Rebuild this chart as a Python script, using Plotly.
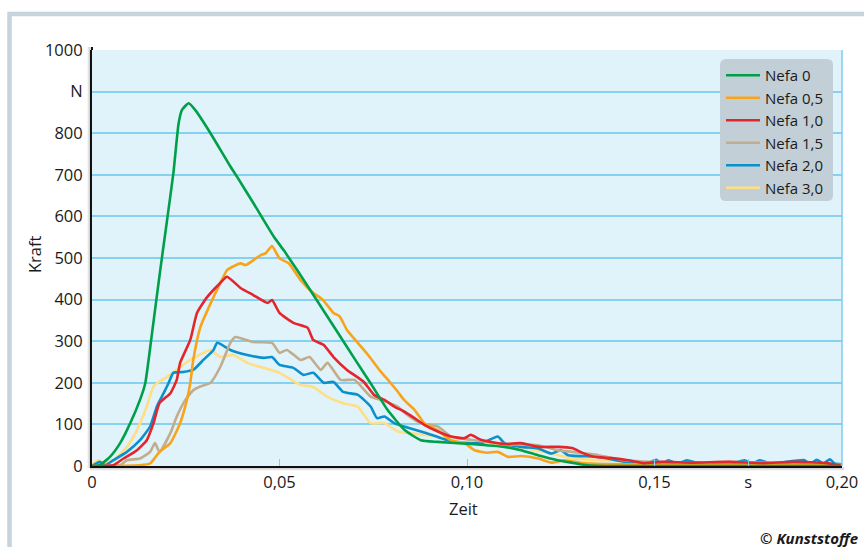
import plotly.graph_objects as go

# ---------------- data ----------------
x_nefa0 = [0, 0.002, 0.0048, 0.0075, 0.0102, 0.0128, 0.0142, 0.016, 0.0182, 0.0200, 0.0217, 0.0231, 0.0240,
           0.0258, 0.0275, 0.0316, 0.0369, 0.0387, 0.0431, 0.0485, 0.0511, 0.0529, 0.0547, 0.060, 0.065, 0.070,
           0.0743, 0.0788, 0.0833, 0.0877, 0.0922, 0.101, 0.110, 0.1144, 0.1189, 0.1242, 0.128, 0.132, 0.140, 0.200]
y_nefa0 = [0, 2, 22, 55, 103, 159, 199, 319, 471, 590, 704, 824, 856,
           872, 856, 800, 720, 695, 631, 551, 519, 495, 471, 398, 328, 258,
           199, 135, 87, 62, 58, 53, 46, 38, 26, 14, 8, 2, 0, 0]

x_nefa05 = [0, 0.0128, 0.0155, 0.018, 0.0209, 0.0235, 0.0253, 0.0262, 0.027, 0.0289, 0.0324, 0.035, 0.036,
            0.0396, 0.041, 0.045, 0.0463, 0.048, 0.050, 0.0525, 0.0556, 0.059, 0.0615, 0.0644, 0.066, 0.068,
            0.0705, 0.0725, 0.0743, 0.077, 0.0797, 0.0815, 0.0832, 0.086, 0.0886, 0.092, 0.0957, 0.0993, 0.102,
            0.1055, 0.1082, 0.111, 0.1144, 0.119, 0.1225, 0.126, 0.131, 0.140, 0.200]
y_nefa05 = [0, 2, 6, 34, 55, 103, 159, 199, 255, 334, 406, 454, 471,
            487, 483, 507, 511, 529, 499, 487, 447, 416, 400, 368, 360, 327,
            300, 279, 259, 227, 199, 179, 159, 135, 103, 87, 62, 55, 38,
            32, 34, 22, 24, 18, 8, 14, 7, 4, 3]

x_nefa10 = [0, 0.0057, 0.0084, 0.012, 0.0146, 0.0164, 0.018, 0.0209, 0.0226, 0.0235, 0.0262, 0.028, 0.0307,
            0.0342, 0.036, 0.0396, 0.043, 0.0468, 0.048, 0.050, 0.0537, 0.0575, 0.059, 0.0618, 0.0644, 0.068,
            0.0725, 0.0752, 0.078, 0.0806, 0.0832, 0.086, 0.0886, 0.0922, 0.0957, 0.0993, 0.101, 0.1037, 0.110,
            0.1144, 0.119, 0.1242, 0.128, 0.131, 0.134, 0.1385, 0.143, 0.147, 0.152, 0.160, 0.170, 0.179,
            0.187, 0.196, 0.200]
y_nefa10 = [0, 2, 18, 38, 62, 103, 151, 175, 207, 248, 303, 368, 406,
            440, 455, 428, 411, 392, 399, 368, 344, 332, 303, 291, 262, 231,
            202, 171, 159, 143, 131, 115, 99, 83, 71, 67, 75, 63, 53,
            55, 46, 46, 43, 31, 22, 19, 14, 7, 10, 8, 10, 7,
            10, 7, 0]

x_nefa15 = [0, 0.0075, 0.0093, 0.0128, 0.0155, 0.0168, 0.018, 0.0209, 0.0226, 0.0249, 0.0271, 0.0289, 0.0316,
            0.0342, 0.0369, 0.0382, 0.043, 0.048, 0.050, 0.052, 0.0556, 0.058, 0.061, 0.0628, 0.0663, 0.070,
            0.0743, 0.077, 0.0815, 0.0841, 0.0877, 0.0922, 0.0957, 0.101, 0.110, 0.119, 0.124, 0.128, 0.135,
            0.142, 0.150, 0.160, 0.170, 0.180, 0.190, 0.196, 0.200]
y_nefa15 = [0, 2, 14, 18, 34, 55, 34, 79, 119, 159, 183, 191, 200,
            238, 296, 310, 298, 296, 272, 279, 255, 262, 231, 248, 207, 207,
            167, 159, 143, 123, 103, 95, 71, 63, 53, 50, 38, 34, 26,
            14, 10, 8, 10, 8, 6, 3, 0]

x_nefa20 = [0, 0.0021, 0.0035, 0.0057, 0.0093, 0.0128, 0.0155, 0.0173, 0.0191, 0.0204, 0.0217, 0.0243, 0.027,
            0.0297, 0.0324, 0.0334, 0.0369, 0.0414, 0.0457, 0.048, 0.050, 0.0537, 0.0564, 0.059, 0.0618, 0.0644,
            0.067, 0.0709, 0.0743, 0.076, 0.078, 0.0806, 0.0832, 0.0877, 0.0904, 0.093, 0.0966, 0.100, 0.104,
            0.1082, 0.110, 0.1144, 0.119, 0.1225, 0.125, 0.127, 0.135, 0.142, 0.148, 0.1505, 0.152, 0.1537,
            0.156, 0.1586, 0.162, 0.170, 0.174, 0.176, 0.178, 0.181, 0.190, 0.1915, 0.1933, 0.195, 0.1968,
            0.198, 0.200]
y_nefa20 = [0, 10, 2, 14, 34, 62, 95, 143, 175, 199, 224, 226, 231,
            255, 279, 296, 279, 267, 260, 262, 243, 236, 219, 224, 200, 202,
            178, 171, 143, 115, 119, 103, 95, 83, 75, 67, 58, 55, 55,
            71, 55, 46, 42, 30, 38, 26, 22, 10, 6, 15, 5, 14,
            5, 14, 6, 5, 14, 5, 14, 6, 14, 5, 15, 6, 16,
            6, 4]

x_nefa30 = [0, 0.0004, 0.0017, 0.003, 0.0057, 0.0093, 0.012, 0.0146, 0.0164, 0.018, 0.020, 0.0235, 0.0262,
            0.0297, 0.0316, 0.0342, 0.0377, 0.0414, 0.0457, 0.050, 0.0556, 0.059, 0.0628, 0.067, 0.0709, 0.0743,
            0.078, 0.0815, 0.085, 0.0886, 0.092, 0.0975, 0.101, 0.106, 0.1136, 0.1206, 0.128, 0.135, 0.150,
            0.170, 0.190, 0.200]
y_nefa30 = [0, 6, 14, 6, 14, 46, 87, 143, 191, 203, 214, 238, 255,
            272, 279, 262, 267, 248, 236, 224, 195, 190, 166, 151, 142, 103,
            103, 83, 79, 75, 71, 55, 58, 55, 46, 34, 19, 14, 8,
            7, 7, 3]

series_names = ["Nefa 0", "Nefa 0,5", "Nefa 1,0", "Nefa 1,5", "Nefa 2,0", "Nefa 3,0"]
series_x = [x_nefa0, x_nefa05, x_nefa10, x_nefa15, x_nefa20, x_nefa30]
series_y = [y_nefa0, y_nefa05, y_nefa10, y_nefa15, y_nefa20, y_nefa30]
series_colors = ["#00a04b", "#f9a31b", "#e4252b", "#c0ad8e", "#0a90cc", "#fedf86"]

y_tickvals = [0, 100, 200, 300, 400, 500, 600, 700, 800, 900, 1000]
y_ticktext = ["0", "100", "200", "300", "400", "500", "600", "700", "800", "N", "1000"]
x_tickvals = [0, 0.05, 0.10, 0.15, 0.175, 0.20]
x_ticktext = ["0", "0,05", "0,10", "0,15", "s", "0,20"]

# ---------------- figure ----------------
W, H = 864, 547
ML, MR, MT, MB = 92, 22, 50, 81
PW, PH = W - ML - MR, H - MT - MB

def px_x(p):
    return (p - ML) / PW

def px_y(p):
    return (H - MB - p) / PH

FONT = "Open Sans"
fig = go.Figure()

# draw order: lower curves first, green on top
draw_order = [5, 4, 3, 1, 2, 0]
for i in draw_order:
    fig.add_trace(go.Scatter(
        x=series_x[i], y=series_y[i], name=series_names[i], mode="lines",
        line=dict(color=series_colors[i], width=2.6, shape="spline", smoothing=0.5),
        legendrank=i + 1,
    ))

fig.update_layout(
    width=W, height=H,
    margin=dict(l=ML, r=MR, t=MT, b=MB, pad=0, autoexpand=False),
    paper_bgcolor="white",
    plot_bgcolor="#e0f2fa",
    font=dict(family=FONT, size=16.5, color="#1a1a1a"),
    showlegend=True,
    legend=dict(
        x=px_x(721), y=px_y(59), xanchor="left", yanchor="top",
        bgcolor="rgba(0,0,0,0)", borderwidth=0,
        font=dict(family=FONT, size=15, color="#1a1a1a"),
        itemwidth=34, tracegroupgap=0,
    ),
)

fig.update_xaxes(
    range=[0, 0.2], tickvals=x_tickvals, ticktext=x_ticktext,
    showgrid=False, zeroline=False, automargin=False,
    showline=True, linecolor="#111111", linewidth=2,
    ticks="inside", ticklen=7, tickcolor="#7fcdef", tickwidth=1,
    tickfont=dict(family=FONT, size=16.5, color="#1a1a1a"),
)
fig.update_yaxes(
    range=[0, 1000], tickvals=y_tickvals, ticktext=y_ticktext,
    showgrid=True, gridcolor="#86d0f0", gridwidth=1.5, zeroline=False, automargin=False,
    showline=True, linecolor="#111111", linewidth=2,
    ticks="", ticklabelstandoff=4,
    tickfont=dict(family=FONT, size=16.5, color="#1a1a1a"),
)

shapes = []
# outer frame (light grey-blue), extends past the right and bottom edges
shapes.append(dict(type="rect", xref="paper", yref="paper",
                   x0=px_x(9.5), x1=px_x(W + 20), y0=px_y(H + 20), y1=px_y(14),
                   line=dict(color="#c5d3dc", width=4.5), fillcolor="rgba(0,0,0,0)", layer="below"))
# right border of plot area
shapes.append(dict(type="line", xref="paper", yref="paper", x0=1, x1=1, y0=0, y1=1,
                   line=dict(color="#7fcdef", width=1.5), layer="above"))
# axis shadows
for k, a in enumerate([0.22, 0.14, 0.07]):
    shapes.append(dict(type="line", xref="paper", yref="paper",
                       x0=px_x(ML - 2 - k), x1=px_x(ML - 2 - k), y0=px_y(H - MB + 2), y1=px_y(47),
                       line=dict(color=f"rgba(0,0,0,{a})", width=1), layer="above"))
    shapes.append(dict(type="line", xref="paper", yref="paper",
                       x0=px_x(ML - 2), x1=px_x(W - MR + 2), y0=px_y(H - MB + 2 + k), y1=px_y(H - MB + 2 + k),
                       line=dict(color=f"rgba(0,0,0,{a})", width=1), layer="above"))
# extension of y axis above the plot
shapes.append(dict(type="line", xref="paper", yref="paper", x0=0, x1=0, y0=1, y1=px_y(47),
                   line=dict(color="#111111", width=2), layer="above"))

# rounded legend box (drawn as a path behind the legend entries)
lx0, lx1, ly0, ly1, r = 720, 833, 59, 201, 6
pts = [
    f"M {px_x(lx0 + r)},{px_y(ly0)}",
    f"L {px_x(lx1 - r)},{px_y(ly0)}",
    f"Q {px_x(lx1)},{px_y(ly0)} {px_x(lx1)},{px_y(ly0 + r)}",
    f"L {px_x(lx1)},{px_y(ly1 - r)}",
    f"Q {px_x(lx1)},{px_y(ly1)} {px_x(lx1 - r)},{px_y(ly1)}",
    f"L {px_x(lx0 + r)},{px_y(ly1)}",
    f"Q {px_x(lx0)},{px_y(ly1)} {px_x(lx0)},{px_y(ly1 - r)}",
    f"L {px_x(lx0)},{px_y(ly0 + r)}",
    f"Q {px_x(lx0)},{px_y(ly0)} {px_x(lx0 + r)},{px_y(ly0)} Z",
]
shapes.append(dict(type="path", xref="paper", yref="paper", path=" ".join(pts),
                   fillcolor="#c3cfd6", line=dict(width=0), layer="above"))
fig.update_layout(shapes=shapes)

fig.add_annotation(text="Zeit", xref="paper", yref="paper", x=px_x(463), y=px_y(508),
                   showarrow=False, xanchor="center", yanchor="middle",
                   font=dict(family=FONT, size=16.5, color="#1a1a1a"))
fig.add_annotation(text="Kraft", xref="paper", yref="paper", x=px_x(34), y=px_y(254),
                   showarrow=False, xanchor="center", yanchor="middle", textangle=-90,
                   font=dict(family=FONT, size=16.5, color="#1a1a1a"))
fig.add_annotation(text="<b><i>© Kunststoffe</i></b>", xref="paper", yref="paper", x=px_x(860), y=px_y(538),
                   showarrow=False, xanchor="right", yanchor="middle",
                   font=dict(family=FONT, size=15, color="#1a1a1a"))

# remove the default page margin so the figure sits at the window's top-left corner
fig.write_html("out.html", config={"displayModeBar": False},
               post_script="document.body.style.margin='0';document.body.style.overflow='hidden';")
